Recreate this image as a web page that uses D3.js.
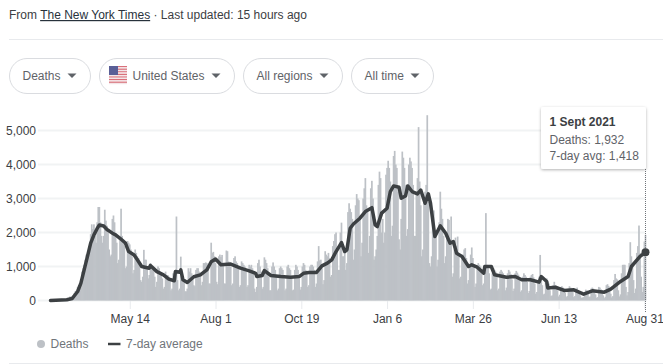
<!DOCTYPE html>
<html>
<head>
<meta charset="utf-8">
<script src="https://cdn.jsdelivr.net/npm/d3@7"></script>
<style>
  html, body { margin: 0; padding: 0; background: #fff; overflow: hidden; }
  svg { display: block; font-family: "Liberation Sans", Arial, sans-serif; }
</style>
</head>
<body>
<div id="chart"></div>
<script>
// Daily deaths, one row per week, Monday first, starting Mon 2 Mar 2020
const deaths = [
  3,3,2,3,3,3,4,
  4,5,5,8,9,10,12,
  20,50,60,70,120,100,130,
  150,220,280,300,400,450,500,
  550,850,950,1050,1200,1350,1300,
  1250,1500,1950,2240,2100,2240,1900,
  1700,2300,2750,2750,2300,1900,1700,
  1900,2670,2350,2200,2000,1500,1300,
  1350,2400,2500,2300,1900,1700,1100,
  1200,1800,2700,1900,1800,1600,950,
  1000,1750,1700,1650,1500,1300,800,
  900,1500,1400,1300,1250,1100,600,
  550,700,1490,1200,1200,950,650,
  750,1100,1000,1000,900,700,400,
  550,1000,950,850,800,650,350,
  400,850,750,750,700,600,300,
  350,800,750,700,2470,600,300,
  350,1290,700,650,600,270,270,
  350,950,850,950,800,700,450,
  420,900,950,950,850,750,450,
  550,1100,1100,1120,1100,950,500,
  500,1700,1400,1430,1300,1100,550,
  480,1300,1350,1280,1340,1050,500,
  500,1470,1450,1150,1100,1000,450,
  500,1250,1300,1150,1100,950,400,
  450,1150,1100,1050,1000,850,400,
  450,1050,1000,1050,950,800,350,
  250,400,1100,1200,1000,850,350,
  400,1270,1200,1100,950,700,300,
  300,1000,1120,1000,900,700,300,
  350,950,1000,950,900,650,300,
  350,1000,1050,950,900,700,300,
  320,900,1050,1000,900,650,320,
  400,1000,1100,1050,900,800,400,
  450,1000,1050,1050,1000,900,400,
  500,1150,1600,1180,1200,950,480,
  600,1450,1350,1300,1400,1250,700,
  750,1600,1750,1950,2000,1500,900,
  900,2000,2290,1300,1300,1500,900,
  1100,2600,2860,2700,2600,2400,1200,
  1500,2800,3130,3000,2950,2400,1300,
  1700,3000,3300,3600,2800,2600,1400,
  1900,3300,3520,3000,1200,1300,1500,
  1900,3400,3790,3600,2000,2400,1700,
  2000,3700,3900,4110,3900,3500,1900,
  2200,4250,4400,4000,3900,3200,1800,
  1500,2400,4380,4200,3900,3400,1900,
  2100,4000,4200,4090,3900,3400,1900,
  1900,3200,3600,5100,3500,2800,1300,
  1500,3000,3200,3400,5450,2900,1100,
  1000,1300,2500,2650,2050,1900,1000,
  1200,2300,3200,2700,2400,1900,1100,
  1300,1900,2400,2370,1800,2470,700,
  800,1500,1850,1600,1880,1300,650,
  700,1250,1350,1500,1540,1250,500,
  600,1000,1350,1560,1250,1000,400,
  500,950,1100,1050,1000,800,450,
  500,800,2570,1050,950,800,320,
  350,800,950,900,850,700,300,
  350,850,900,850,800,650,300,
  380,800,900,850,780,620,280,
  350,800,870,820,760,600,260,
  300,700,800,750,700,550,220,
  280,700,750,780,680,500,200,
  250,600,700,1340,600,450,180,
  200,550,650,550,500,300,130,
  150,450,550,450,400,300,120,
  170,400,420,380,350,230,100,
  130,350,420,380,330,250,100,
  130,350,380,300,280,150,80,
  90,100,220,320,300,240,100,
  120,350,380,350,300,180,80,
  100,400,380,330,300,150,70,
  110,450,480,430,380,200,90,
  130,600,780,650,620,300,120,
  180,800,1050,1050,1050,400,150,
  250,1100,1715,1300,1100,600,220,
  350,1400,1600,2205,1400,700,250,
  400,1735,1932
];

// 7-day average: day number since 2 Mar 2020, then value
const avgDays = [
  0,15,20,25,28,31,34,37,40,43,45,49,52,57,60,64,69,72,77,80,84,91,92,98,104,109,114,115,119,120,122,126,132,138,144,148,152,
  157,166,175,183,189,190,195,197,203,212,221,229,233,238,245,250,255,259,263,268,271,273,276,279,285,290,296,299,301,305,310,313,316,321,323,327,329,333,338,341,345,348,350,354,
  359,364,368,371,374,379,385,388,393,399,400,406,409,420,428,434,442,450,452,457,458,465,473,482,491,499,510,516,525,532,535,543,548
];
const avgValues = [
  0,20,60,265,510,900,1290,1690,1930,2120,2220,2190,2090,1980,1930,1830,1690,1440,1340,1200,1000,950,1030,850,755,630,580,850,830,900,610,530,700,755,900,1140,1220,
  1050,1070,950,870,800,705,735,880,735,705,685,705,800,825,825,1020,1100,1195,1440,1705,1440,1490,2125,2250,2420,2615,2730,2225,2175,2570,2715,3205,3370,3330,3010,3075,3370,3205,3135,3250,2860,3135,2860,1880,
  2195,1980,1685,1735,1390,1295,1000,1050,980,805,1000,1000,755,685,705,610,610,540,705,560,365,390,295,315,185,285,245,335,560,705,1000,1295,1418
];

const yTicks = [0, 1000, 2000, 3000, 4000, 5000];
const xTickDates = ["2020-05-14", "2020-08-01", "2020-10-19", "2021-01-06", "2021-03-26", "2021-06-13", "2021-08-31"];
const filterLabels = ["Deaths", "United States", "All regions", "All time"];
const tooltipLines = ["Deaths: 1,932", "7-day avg: 1,418"];

const W = 663, H = 364;
const FONT = '"Liberation Sans", Arial, sans-serif';
const parseDay = d3.utcParse("%Y-%m-%d");
const startDate = parseDay("2020-03-02");
const dayToDate = i => d3.utcDay.offset(startDate, i);

const x = d3.scaleUtc().domain([startDate, parseDay("2021-09-01")]).range([50.5, 645.5]);
const y = d3.scaleLinear().domain([0, 5000]).range([300.5, 130.5]);

const svg = d3.select("#chart").append("svg").attr("width", W).attr("height", H);

// ── Header ───────────────────────────────────────────────────────────────
const head = svg.append("text").attr("x", 9).attr("y", 19)
  .attr("font-size", 12).attr("fill", "#3c4043");
head.append("tspan").text("From ");
head.append("tspan").attr("fill", "#28323c").attr("text-decoration", "underline").text("The New York Times");
head.append("tspan").text(" · Last updated: 15 hours ago");

svg.append("line").attr("x1", 9).attr("x2", W).attr("y1", 39.5).attr("y2", 39.5)
  .attr("stroke", "#e8eaed");

// ── Filter chips ─────────────────────────────────────────────────────────
const chipBoxes = [[9.5, 81], [99.5, 135], [243.5, 99], [351.5, 82]];
filterLabels.forEach((label, i) => {
  const [cx, cw] = chipBoxes[i];
  const chip = svg.append("g").attr("transform", `translate(${cx},58.5)`);
  chip.append("rect").attr("width", cw).attr("height", 35).attr("rx", 17.5)
    .attr("fill", "#fff").attr("stroke", "#dadce0");
  chip.append("text").attr("x", i === 1 ? 33 : 13).attr("y", 21.5)
    .attr("font-size", 12).attr("fill", "#5f6368").text(label);
  chip.append("path")
    .attr("d", `M${cw - 23},15 h9 l-4.5,4.5 z`)
    .attr("fill", "#5f6368");
});

// Flag
const flag = svg.append("g").attr("transform", "translate(109,66)");
d3.range(7).forEach(i => {
  flag.append("rect").attr("y", i * 2.6).attr("width", 18).attr("height", 1.3).attr("fill", "#d9707a");
  flag.append("rect").attr("y", i * 2.6 + 1.3).attr("width", 18).attr("height", 1.3).attr("fill", "#f3e6e8");
});
flag.append("rect").attr("width", 9).attr("height", 9).attr("fill", "#5a5f97");

// ── Gridlines ────────────────────────────────────────────────────────────
svg.append("g").selectAll("line").data(yTicks).join("line")
  .attr("x1", 38).attr("x2", 645)
  .attr("y1", d => y(d)).attr("y2", d => y(d))
  .attr("stroke", "#f1f3f4").attr("stroke-width", 2);

// ── Y axis ───────────────────────────────────────────────────────────────
const yAxis = svg.append("g").attr("transform", "translate(36,0)")
  .call(d3.axisLeft(y).tickValues(yTicks).tickSize(0).tickPadding(0).tickFormat(d3.format(",")));
yAxis.select(".domain").remove();
yAxis.selectAll("text").attr("font-family", FONT)
  .attr("font-size", 12).attr("fill", "#3c4043");

// ── Bars ─────────────────────────────────────────────────────────────────
// Slightly wider than a day, the neighbours overlap and dips stay narrow
const barW = 1.7;
svg.append("g").selectAll("rect").data(deaths).join("rect")
  .attr("x", (d, i) => x(dayToDate(i)) - barW / 2)
  .attr("y", d => y(d))
  .attr("width", barW)
  .attr("height", d => y(0) - y(d))
  .attr("fill", "#bdc1c6");

// ── X axis ───────────────────────────────────────────────────────────────
const xAxis = svg.append("g").attr("transform", "translate(0,301)")
  .call(d3.axisBottom(x).tickValues(xTickDates.map(parseDay)).tickSize(8).tickPadding(5)
    .tickFormat(d3.utcFormat("%b %-d")));
xAxis.select(".domain").remove();
xAxis.selectAll("line").attr("stroke", "#e8eaed");
xAxis.selectAll("text").attr("font-family", FONT)
  .attr("font-size", 12).attr("fill", "#3c4043");

// ── 7-day average line ───────────────────────────────────────────────────
const line = d3.line()
  .x((d, i) => x(dayToDate(avgDays[i])))
  .y(d => y(d));
svg.append("path").attr("d", line(avgValues))
  .attr("fill", "none").attr("stroke", "#3c4043").attr("stroke-width", 3.5)
  .attr("stroke-linejoin", "round").attr("stroke-linecap", "round");

const lastX = x(dayToDate(avgDays[avgDays.length - 1]));
svg.append("line").attr("x1", lastX).attr("x2", lastX).attr("y1", 169).attr("y2", 312)
  .attr("stroke", "#70757a").attr("stroke-dasharray", "1,1");
svg.append("circle").attr("cx", lastX).attr("cy", y(avgValues[avgValues.length - 1])).attr("r", 4)
  .attr("fill", "#3c4043");

// ── Tooltip ──────────────────────────────────────────────────────────────
const defs = svg.append("defs");
const shadow = defs.append("filter").attr("id", "tipShadow")
  .attr("x", "-10%").attr("y", "-10%").attr("width", "120%").attr("height", "130%");
shadow.append("feDropShadow").attr("dx", 0).attr("dy", 1).attr("stdDeviation", 1.5)
  .attr("flood-color", "#000").attr("flood-opacity", 0.3);
const tip = svg.append("g").attr("transform", "translate(541,107)");
tip.append("rect").attr("width", 105).attr("height", 62).attr("rx", 2)
  .attr("fill", "#fff").attr("filter", "url(#tipShadow)");
tip.append("text").attr("x", 8.5).attr("y", 19).attr("font-size", 12).attr("font-weight", 700)
  .attr("fill", "#3c4043").text("1 Sept 2021");
tip.selectAll("text.row").data(tooltipLines).join("text").attr("class", "row")
  .attr("x", 8.5).attr("y", (d, i) => 36.5 + i * 16.5)
  .attr("font-size", 12).attr("fill", "#5f6368").text(d => d);

// ── Legend ───────────────────────────────────────────────────────────────
svg.append("circle").attr("cx", 41).attr("cy", 344).attr("r", 4).attr("fill", "#bdc1c6");
svg.append("text").attr("x", 50.5).attr("y", 348).attr("font-size", 12).attr("fill", "#70757a").text("Deaths");
svg.append("line").attr("x1", 108).attr("x2", 120.5).attr("y1", 344).attr("y2", 344)
  .attr("stroke", "#3c4043").attr("stroke-width", 2.5);
svg.append("text").attr("x", 126).attr("y", 348).attr("font-size", 12).attr("fill", "#70757a").text("7-day average");

svg.append("line").attr("x1", 9).attr("x2", W).attr("y1", 363.5).attr("y2", 363.5)
  .attr("stroke", "#e8eaed");
</script>
</body>
</html>
